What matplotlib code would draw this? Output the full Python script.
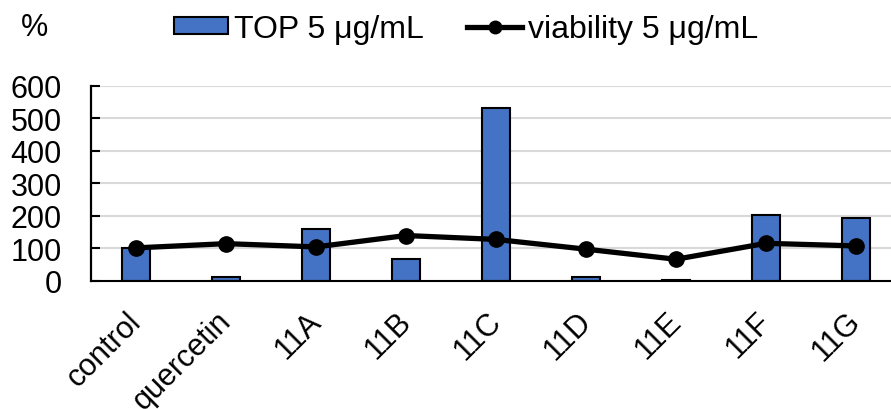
import matplotlib
matplotlib.use("Agg")
import matplotlib.pyplot as plt
import matplotlib.transforms as mtransforms
from matplotlib.lines import Line2D
from matplotlib.patches import Patch

plt.rcParams['font.family'] = ['Liberation Sans', 'DejaVu Sans']

categories = ["control", "quercetin", "11A", "11B", "11C", "11D", "11E", "11F", "11G"]
top_values = [100, 10, 158, 68, 530, 10, 3, 203, 193]
viability_values = [101, 114, 104, 139, 127, 97, 66, 115, 107]
y_ticks = [0, 100, 200, 300, 400, 500, 600]

bar_color = "#4472C4"

fig = plt.figure(figsize=(8.91, 4.10), dpi=100)
# axes spans a little past the right edge of the figure
ax = fig.add_axes([91 / 891, 1 - 281.7 / 410, 810 / 891, (281.7 - 86.7) / 410])

x = list(range(len(categories)))
ax.bar(x, top_values, width=0.32, color=bar_color, edgecolor="black", linewidth=1.5, zorder=2)
ax.plot(x, viability_values, color="black", linewidth=3.8, marker="o", markersize=11, zorder=3)

ax.set_xlim(-0.5, len(categories) - 0.5)
ax.set_ylim(0, 600)
ax.set_yticks(y_ticks)
ax.set_yticklabels([str(v) for v in y_ticks], fontsize=22)
ax.set_xticks(x)
ax.set_xticklabels(categories, rotation=45, ha="right", va="top", rotation_mode="anchor", fontsize=22)
ax.tick_params(axis="x", length=0, pad=18)
ax.tick_params(axis="y", direction="in", length=6.5, width=1.5, pad=21)

# nudge the slanted category labels to the left
shift = mtransforms.ScaledTranslation(-10 / 100, 0, fig.dpi_scale_trans)
for lbl in ax.get_xticklabels():
    lbl.set_transform(lbl.get_transform() + shift)

ax.grid(axis="y", color="#d9d9d9", linewidth=1.5, zorder=0)
ax.set_axisbelow(True)
for side in ["top", "right"]:
    ax.spines[side].set_visible(False)
ax.spines["left"].set_linewidth(1.6)
ax.spines["bottom"].set_linewidth(1.5)

fig.text(35 / 891, 1 - 28 / 410, "%", fontsize=22, ha="center", va="center")

handles = [
    Patch(facecolor=bar_color, edgecolor="black", linewidth=1.5),
    Line2D([0], [0], color="black", linewidth=3.8, marker="o", markersize=9),
]
fig.legend(handles, ["TOP 5 μg/mL", "viability 5 μg/mL"], loc="center",
           bbox_to_anchor=(466 / 891, 1 - 30 / 410), ncol=2, frameon=False,
           fontsize=23, handlelength=1.7, handletextpad=0.2, columnspacing=1.35,
           handleheight=0.45)

fig.savefig("out.png", dpi=100)
